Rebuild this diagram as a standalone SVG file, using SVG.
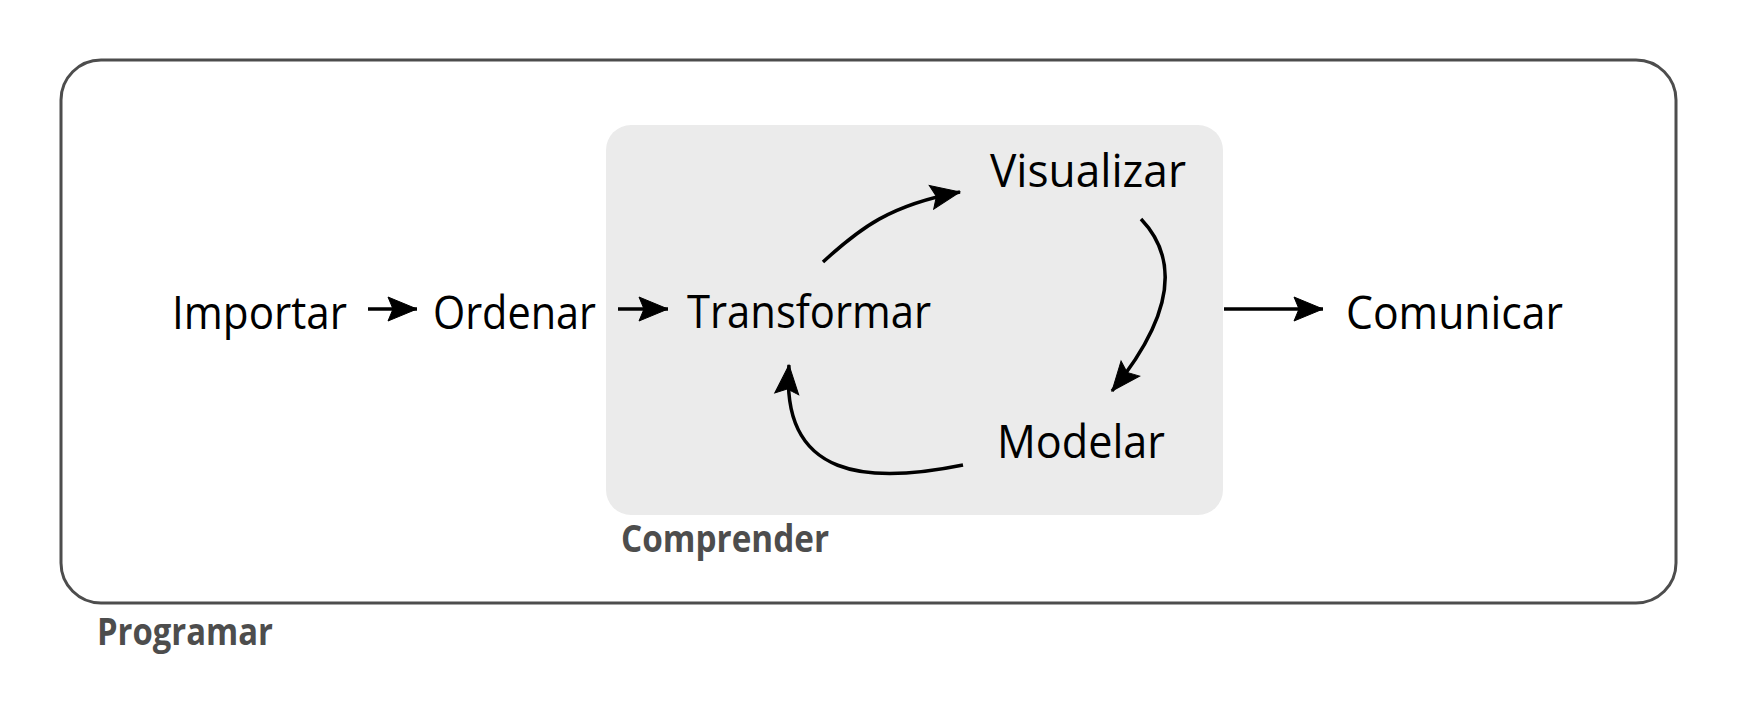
<svg xmlns="http://www.w3.org/2000/svg" width="1737" height="711" viewBox="0 0 1737 711">
<style>
.lbl{font-family:"Open Sans","Noto Sans","Liberation Sans",sans-serif;font-size:46px;fill:#000}
.grp{font-family:"Open Sans","Noto Sans","Liberation Sans",sans-serif;font-size:37px;font-weight:bold;fill:#4d4d4d}
.conn{fill:none;stroke:#000;stroke-width:3.5}
</style>
<defs>
<marker id="ah" markerUnits="userSpaceOnUse" markerWidth="36" markerHeight="30" refX="32" refY="15" orient="auto" overflow="visible">
<path d="M32,15 L3,3 L8,15 L3,27 Z" fill="#000" stroke="#000" stroke-width="1" stroke-linejoin="miter"/>
</marker>
</defs>
<g id="programar">
<rect x="61" y="60" width="1615" height="543" rx="40" ry="40" fill="#fff" stroke="#4d4d4d" stroke-width="3"/>
<text class="grp" x="97" y="645" textLength="176" lengthAdjust="spacingAndGlyphs">Programar</text>
</g>
<g id="comprender">
<rect x="606" y="125" width="617" height="390" rx="25" ry="25" fill="#ebebeb"/>
<text class="grp" x="621" y="552" textLength="208" lengthAdjust="spacingAndGlyphs">Comprender</text>
</g>
<g id="importar"><text class="lbl" x="172" y="329" textLength="175" lengthAdjust="spacingAndGlyphs">Importar</text></g>
<g id="ordenar"><text class="lbl" x="433" y="329" textLength="163" lengthAdjust="spacingAndGlyphs">Ordenar</text></g>
<g id="transformar"><text class="lbl" x="687" y="328" textLength="244" lengthAdjust="spacingAndGlyphs">Transformar</text></g>
<g id="visualizar"><text class="lbl" x="990" y="187" textLength="196" lengthAdjust="spacingAndGlyphs">Visualizar</text></g>
<g id="modelar"><text class="lbl" x="997" y="458" textLength="168" lengthAdjust="spacingAndGlyphs">Modelar</text></g>
<g id="comunicar"><text class="lbl" x="1346" y="329" textLength="217" lengthAdjust="spacingAndGlyphs">Comunicar</text></g>
<g id="connectors">
<path class="conn" marker-end="url(#ah)" d="M368,309 L417,309"/>
<path class="conn" marker-end="url(#ah)" d="M618,309 L668,309"/>
<path class="conn" marker-end="url(#ah)" d="M823,262 C860,228 890,205 960,192"/>
<path class="conn" marker-end="url(#ah)" d="M1141,219 C1182,262 1170,320 1112,391"/>
<path class="conn" marker-end="url(#ah)" d="M963,465 C870,484 780,480 789,365"/>
<path class="conn" marker-end="url(#ah)" d="M1224,309 L1323,309"/>
</g>
</svg>
